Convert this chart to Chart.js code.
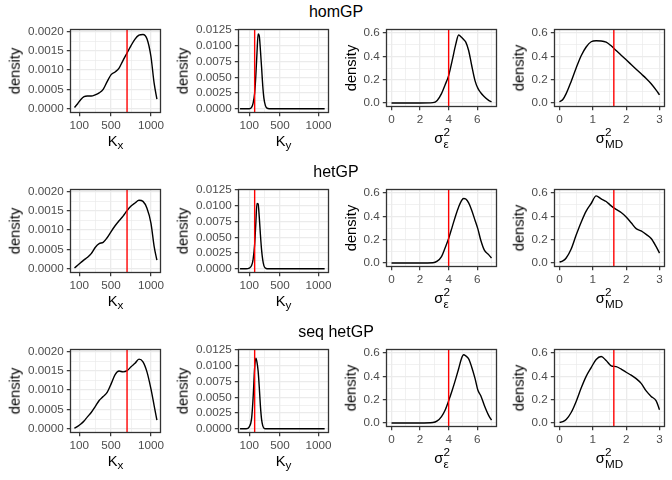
<!DOCTYPE html>
<html>
<head>
<meta charset="utf-8">
<script src="https://cdn.jsdelivr.net/npm/chart.js@4.4.1/dist/chart.umd.min.js"></script>
<style>
  html, body { margin: 0; padding: 0; background: #fff; }
  #wrap { position: relative; width: 672px; height: 480px; font-family: "Liberation Sans", Arial, sans-serif; color: #000; overflow: hidden; }
  canvas { position: absolute; }
  .ttl { position: absolute; font-size: 16px; line-height: 1; transform: translateX(-50%); white-space: nowrap; }
  .xt { position: absolute; font-size: 14.7px; line-height: 1; transform: translateX(-50%); white-space: nowrap; }
  .yt { position: absolute; font-size: 14.7px; line-height: 1; transform: translate(-50%, -50%) rotate(-90deg); white-space: nowrap; }
  .sb { font-size: 11.7px; position: relative; top: 3px; }
  .stk { display: inline-block; position: relative; line-height: 1; }
  .stk .lo { display: block; font-size: 11.7px; position: relative; top: 5px; }
  .stk .hi { position: absolute; left: 0; top: -7px; font-size: 11.7px; }
</style>
</head>
<body>
<div id="wrap"></div>
<script>
// row titles
const rowTitles = ['homGP', 'hetGP', 'seq hetGP'];

// K_x posterior densities
const kxX = [40, 80, 120, 160, 200, 250, 300, 350, 400, 450, 500, 550, 600, 650, 700, 750, 800, 850, 900, 950, 1000, 1040, 1075];
const kxHom = [0.00003, 0.00013, 0.00024, 0.00031, 0.00033, 0.00033, 0.00036, 0.00041, 0.0005, 0.0007, 0.00088, 0.00095, 0.00105, 0.00125, 0.00144, 0.00163, 0.0018, 0.0019, 0.00192, 0.00181, 0.00135, 0.00066, 0.00025];
const kxHet = [0.00002, 0.00009, 0.00016, 0.00023, 0.00029, 0.00039, 0.00055, 0.00065, 0.00068, 0.0008, 0.00096, 0.00111, 0.00124, 0.00136, 0.0015, 0.00162, 0.0017, 0.00177, 0.00174, 0.00156, 0.00118, 0.00058, 0.00022];
const kxSeq = [0.00001, 0.00006, 0.00012, 0.0002, 0.0003, 0.00042, 0.00057, 0.00073, 0.00083, 0.00094, 0.00116, 0.0014, 0.00149, 0.00147, 0.0015, 0.0016, 0.00169, 0.0018, 0.00173, 0.00147, 0.00103, 0.0006, 0.00022];

// K_y posterior densities
const kyX = [-20, 60, 100, 130, 150, 170, 185, 200, 215, 230, 245, 260, 275, 290, 310, 330, 360, 400, 600, 800, 1080];
const kyHom = [0, 0, 0, 0.0002, 0.0009, 0.0025, 0.0052, 0.0088, 0.0119, 0.0116, 0.0093, 0.0066, 0.0037, 0.0017, 0.0005, 0.0001, 0, 0, 0, 0, 0];
const kyHet = [0, 0, 0.0001, 0.0005, 0.0015, 0.0039, 0.0072, 0.0104, 0.0103, 0.0082, 0.0054, 0.003, 0.0014, 0.0005, 0.0001, 0, 0, 0, 0, 0, 0];
const kySeq = [0, 0, 0.0003, 0.0016, 0.0049, 0.0097, 0.0112, 0.0106, 0.0092, 0.0066, 0.0036, 0.0015, 0.0005, 0.0001, 0, 0, 0, 0, 0, 0, 0];

// sigma^2_eps posterior densities
const epsX = [0, 1, 2, 2.9, 3.2, 3.5, 3.75, 4.0, 4.25, 4.5, 4.7, 4.9, 5.05, 5.2, 5.4, 5.6, 5.85, 6.05, 6.25, 6.5, 6.8, 7.0];
const epsHom = [0, 0, 0, 0.003, 0.022, 0.08, 0.155, 0.235, 0.365, 0.505, 0.583, 0.563, 0.544, 0.522, 0.45, 0.33, 0.19, 0.125, 0.088, 0.053, 0.022, 0.01];
const epsHet = [0, 0, 0, 0.002, 0.016, 0.055, 0.129, 0.21, 0.31, 0.41, 0.48, 0.535, 0.553, 0.548, 0.515, 0.457, 0.365, 0.29, 0.195, 0.11, 0.072, 0.042];
const epsSeq = [0, 0, 0, 0.004, 0.018, 0.055, 0.11, 0.19, 0.28, 0.38, 0.465, 0.553, 0.585, 0.575, 0.55, 0.485, 0.38, 0.28, 0.234, 0.15, 0.065, 0.025];

// sigma^2_MD posterior densities
const mdX = [0, 0.1, 0.2, 0.35, 0.5, 0.65, 0.8, 0.95, 1.1, 1.25, 1.4, 1.55, 1.7, 1.85, 2.0, 2.15, 2.3, 2.45, 2.6, 2.75, 2.9, 3.0];
const mdHom = [0.01, 0.03, 0.08, 0.185, 0.3, 0.405, 0.48, 0.525, 0.533, 0.532, 0.522, 0.49, 0.45, 0.41, 0.37, 0.33, 0.29, 0.25, 0.21, 0.165, 0.11, 0.07];
const mdHet = [0.008, 0.018, 0.043, 0.12, 0.24, 0.35, 0.445, 0.51, 0.575, 0.55, 0.527, 0.49, 0.46, 0.433, 0.395, 0.345, 0.295, 0.275, 0.245, 0.21, 0.14, 0.085];
const mdSeq = [0.005, 0.012, 0.03, 0.09, 0.185, 0.3, 0.4, 0.475, 0.545, 0.57, 0.535, 0.49, 0.483, 0.462, 0.435, 0.41, 0.38, 0.34, 0.275, 0.228, 0.19, 0.114];

// true values (red lines)
const kxTrue = 700, kyTrue = 170, epsTrue = 4, mdTrue = 1.63;

// axis limits and ticks
const kxLim = [-10, 1120], kyLim = [-40, 1130], epsLim = [-0.35, 7.35], mdLim = [-0.15, 3.15];
const kxDensLim = [-0.0000975, 0.0020475], kyDensLim = [-0.0006, 0.0126], sigDensLim = [-0.03, 0.63];
const kTicks = [100, 500, 1000];
const epsTicks = [0, 2, 4, 6];
const mdTicks = [0, 1, 2, 3];
const kxDensTicks = [0, 0.0005, 0.001, 0.0015, 0.002];
const kyDensTicks = [0, 0.0025, 0.005, 0.0075, 0.01, 0.0125];
const sigDensTicks = [0, 0.2, 0.4, 0.6];

Chart.defaults.font.family = '"Liberation Sans", Arial, sans-serif';
Chart.defaults.font.size = 11.7;
Chart.defaults.color = '#4D4D4D';

const cols = [
  { xs: kxX, rows: [kxHom, kxHet, kxSeq], xLim: kxLim, yLim: kxDensLim, xMaj: kTicks, yMaj: kxDensTicks, yDec: 4, truth: kxTrue, left: 70.5, bottom: 112.5, lab: 'K<span class="sb">x</span>', labTop: 134 },
  { xs: kyX, rows: [kyHom, kyHet, kySeq], xLim: kyLim, yLim: kyDensLim, xMaj: kTicks, yMaj: kyDensTicks, yDec: 4, truth: kyTrue, left: 70.5, bottom: 112.5, lab: 'K<span class="sb">y</span>', labTop: 134 },
  { xs: epsX, rows: [epsHom, epsHet, epsSeq], xLim: epsLim, yLim: sigDensLim, xMaj: epsTicks, yMaj: sigDensTicks, yDec: 1, truth: epsTrue, left: 50.5, bottom: 106.5, lab: 'σ<span class="stk"><span class="lo">ε</span><span class="hi">2</span></span>', labTop: 131 },
  { xs: mdX, rows: [mdHom, mdHet, mdSeq], xLim: mdLim, yLim: sigDensLim, xMaj: mdTicks, yMaj: sigDensTicks, yDec: 1, truth: mdTrue, left: 50.5, bottom: 106.5, lab: 'σ<span class="stk"><span class="lo">MD</span><span class="hi">2</span></span>', labTop: 131 }
];

const CW = 168, RH = 160, TOP = 29.5, RIGHT = 160.5, XH = 20;

function withMinor(maj, lim) {
  const out = [maj[0] - (maj[1] - maj[0]) / 2];
  maj.forEach((m, i) => {
    out.push(m);
    if (i < maj.length - 1) out.push((m + maj[i + 1]) / 2);
  });
  out.push(maj[maj.length - 1] + (maj[maj.length - 1] - maj[maj.length - 2]) / 2);
  return out.filter(v => v >= lim[0] && v <= lim[1]);
}

function majorTest(maj, lim) {
  const eps = (lim[1] - lim[0]) * 1e-6;
  return v => maj.some(m => Math.abs(m - v) < eps);
}

const boxBorder = {
  id: 'boxBorder',
  afterDatasetsDraw(chart) {
    const a = chart.chartArea, c = chart.ctx;
    c.save();
    c.strokeStyle = '#333333';
    c.lineWidth = 1.3;
    c.strokeRect(a.left, a.top, a.right - a.left, a.bottom - a.top);
    c.restore();
  }
};

function scaleOpts(lim, maj, fmt, isX, size) {
  const isMaj = majorTest(maj, lim);
  const all = withMinor(maj, lim);
  return {
    type: 'linear',
    min: lim[0],
    max: lim[1],
    afterBuildTicks: ax => { ax.ticks = all.map(v => ({ value: v })); },
    afterFit: s => { if (isX) s.height = size; else s.width = size; },
    border: { display: false },
    grid: {
      drawTicks: true,
      tickLength: 3.7,
      color: c => '#EBEBEB',
      lineWidth: c => (c.tick && isMaj(c.tick.value)) ? 1.3 : 0.7,
      tickColor: c => (c.tick && isMaj(c.tick.value)) ? '#333333' : 'rgba(0,0,0,0)',
      tickWidth: c => (c.tick && isMaj(c.tick.value)) ? 1.2 : 0
    },
    ticks: {
      autoSkip: false,
      maxRotation: 0,
      minRotation: 0,
      padding: 3,
      color: '#4D4D4D',
      font: { size: 11.7 },
      callback: v => isMaj(v) ? fmt(v) : ''
    }
  };
}

const wrap = document.getElementById('wrap');

rowTitles.forEach((t, r) => {
  const d = document.createElement('div');
  d.className = 'ttl';
  d.textContent = t;
  d.style.left = '336px';
  d.style.top = (r * RH + 4) + 'px';
  wrap.appendChild(d);

  cols.forEach((col, c) => {
    const cv = document.createElement('canvas');
    cv.width = CW; cv.height = RH;
    cv.style.left = (c * CW) + 'px';
    cv.style.top = (r * RH) + 'px';
    cv.style.width = CW + 'px'; cv.style.height = RH + 'px';
    wrap.appendChild(cv);

    const ys = col.rows[r];
    new Chart(cv, {
      type: 'scatter',
      data: {
        datasets: [
          {
            data: [{ x: col.truth, y: col.yLim[0] }, { x: col.truth, y: col.yLim[1] }],
            showLine: true, borderColor: '#FF0000', borderWidth: 1.4, pointRadius: 0
          },
          {
            data: col.xs.map((x, i) => ({ x: x, y: ys[i] })),
            showLine: true, borderColor: '#000000', borderWidth: 1.4, pointRadius: 0,
            cubicInterpolationMode: 'monotone'
          }
        ]
      },
      options: {
        responsive: false,
        animation: false,
        events: [],
        layout: { padding: { left: 0, top: TOP, right: CW - RIGHT, bottom: RH - col.bottom - XH } },
        plugins: { legend: { display: false }, tooltip: { enabled: false } },
        scales: {
          x: scaleOpts(col.xLim, col.xMaj, v => String(v), true, XH),
          y: scaleOpts(col.yLim, col.yMaj, v => v.toFixed(col.yDec), false, col.left)
        }
      },
      plugins: [boxBorder]
    });

    // axis titles
    const xt = document.createElement('div');
    xt.className = 'xt';
    xt.innerHTML = col.lab;
    xt.style.left = (c * CW + (col.left + RIGHT) / 2) + 'px';
    xt.style.top = (r * RH + col.labTop) + 'px';
    wrap.appendChild(xt);

    const yt = document.createElement('div');
    yt.className = 'yt';
    yt.textContent = 'density';
    yt.style.left = (c * CW + 14.5) + 'px';
    yt.style.top = (r * RH + (TOP + col.bottom) / 2) + 'px';
    wrap.appendChild(yt);
  });
});
</script>
</body>
</html>
